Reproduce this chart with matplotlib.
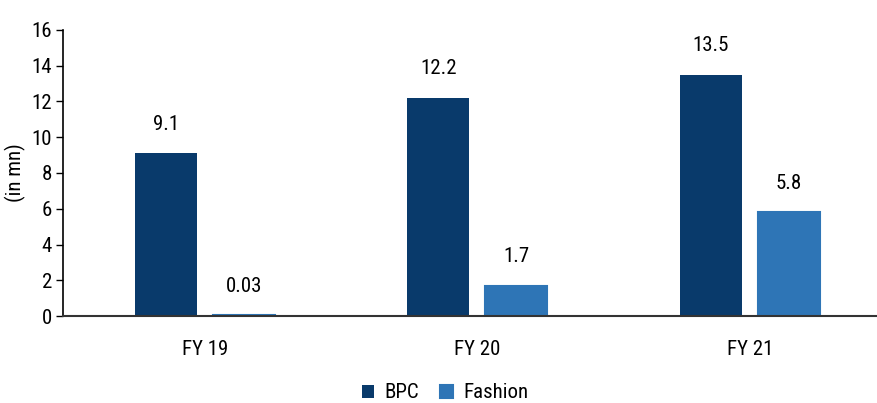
import matplotlib
matplotlib.use('agg')
from matplotlib import pyplot as plt
from matplotlib import font_manager
import numpy as np

categories = ['FY 19', 'FY 20', 'FY 21']
bpc = [9.1, 12.2, 13.5]
fashion = [0.03, 1.7, 5.8]
bpc_labels = ['9.1', '12.2', '13.5']
fashion_labels = ['0.03', '1.7', '5.8']

names = {f.name for f in font_manager.fontManager.ttflist}
family = 'DejaVu Sans'
for cand in ['Roboto Condensed', 'Liberation Sans Narrow', 'Arial Narrow', 'Archivo Narrow']:
    if cand in names:
        family = cand
        break
plt.rcParams['font.family'] = family
plt.rcParams['font.stretch'] = 'condensed'

BPC_COLOR = '#093a6b'
FASHION_COLOR = '#2e75b6'
FS = 15

fig = plt.figure(figsize=(8.77, 4.03), dpi=100)
ax = fig.add_axes([63 / 877, 87 / 403, 1 - 63 / 877, 286 / 403])

x = np.arange(len(categories))
width = 0.228
offset = 0.143
b1 = ax.bar(x - offset, bpc, width, color=BPC_COLOR, label='BPC')
b2 = ax.bar(x + offset, fashion, width, color=FASHION_COLOR, label='Fashion',
            edgecolor=FASHION_COLOR, linewidth=1.5)

for rect, lab in zip(b1, bpc_labels):
    ax.annotate(lab, (rect.get_x() + rect.get_width() / 2, rect.get_height()),
                xytext=(0, 14), textcoords='offset points', ha='center', va='bottom', fontsize=FS)
for rect, lab in zip(b2, fashion_labels):
    ax.annotate(lab, (rect.get_x() + rect.get_width() / 2, rect.get_height()),
                xytext=(0, 14), textcoords='offset points', ha='center', va='bottom', fontsize=FS)

ax.set_xlim(-0.52, 2.467)
ax.set_ylim(0, 16)
ax.set_yticks(range(0, 17, 2))
ax.set_xticks(x)
ax.set_xticklabels(categories)
ax.tick_params(axis='y', labelsize=FS, length=5, width=1, direction='out', pad=3)
ax.tick_params(axis='x', labelsize=FS, length=0, pad=17)
ax.set_ylabel('(in mn)', fontsize=FS, labelpad=4)

for s in ['top', 'right']:
    ax.spines[s].set_visible(False)
ax.spines['left'].set_linewidth(1.2)
ax.spines['bottom'].set_linewidth(1.5)
ax.spines['bottom'].set_color('#333333')

fig.legend(handles=[b1, b2], labels=['BPC', 'Fashion'], loc='center', bbox_to_anchor=(445 / 877, 1 - 393 / 403),
           ncol=2, frameon=False, fontsize=FS, handlelength=0.6, handleheight=0.6,
           handletextpad=0.5, columnspacing=1.0)

fig.savefig('out.png', dpi=100)
